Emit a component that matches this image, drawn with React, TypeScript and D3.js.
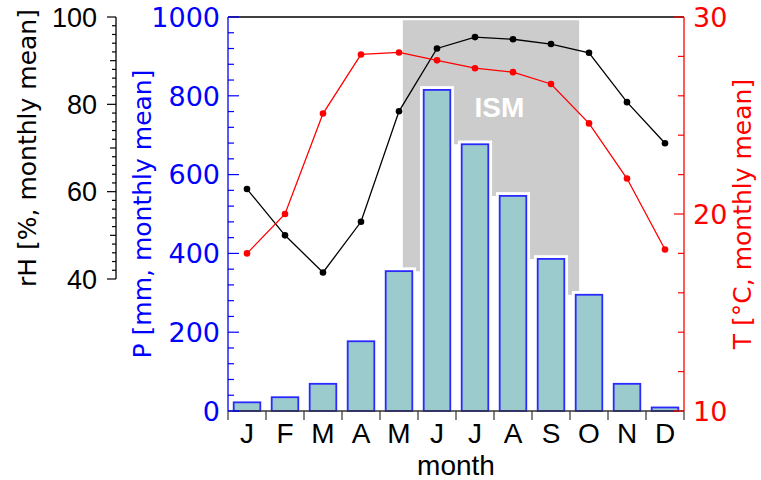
import React from "react";
import * as d3 from "d3";

const months = ["J", "F", "M", "A", "M", "J", "J", "A", "S", "O", "N", "D"];
const precip = [22, 35, 69, 177, 355, 815, 677, 546, 386, 295, 69, 9];
const rh = [60.6, 50, 41.5, 53.1, 78.4, 92.8, 95.4, 94.9, 93.8, 91.8, 80.5, 71.1];
const temp = [18.0, 20.0, 25.1, 28.1, 28.2, 27.8, 27.4, 27.2, 26.6, 24.6, 21.8, 18.2];
const pTicks = [0, 200, 400, 600, 800, 1000];
const rhTicks = [40, 60, 80, 100];
const tTicks = [10, 20, 30];
const ismRange = [4.6, 9.24];
const ismTop = 992;

const W = 761, H = 480;
const L = 228, R = 684, T = 17, B = 411;
const DV = "'DejaVu Sans', Verdana, sans-serif";
const AR = "'Liberation Sans', Arial, sans-serif";

export default function App() {
  const x = d3.scaleLinear().domain([0, 12]).range([L, R]);
  const yP = d3.scaleLinear().domain([0, 1000]).range([B, T]);
  const yRH = d3.scaleLinear().domain([40, 100]).range([279, T]);
  const yT = d3.scaleLinear().domain([10, 30]).range([B, T]);
  const bw = (x(1) - x(0)) * 0.7;
  const cx = (i: number) => x(i + 0.5);

  // ISM gray polygon: bottom = min of adjacent bar tops, stepping at bar centers
  const pts: [number, number][] = [];
  const [s, e] = ismRange;
  pts.push([x(s), yP(ismTop)], [x(e), yP(ismTop)]);
  const segs: { a: number; b: number; v: number }[] = [];
  for (let i = 0; i < 11; i++) {
    const a = Math.max(i + 0.5, s), b = Math.min(i + 1.5, e);
    if (b > a) segs.push({ a, b, v: Math.min(precip[i], precip[i + 1]) });
  }
  for (let k = segs.length - 1; k >= 0; k--) {
    pts.push([x(segs[k].b), yP(segs[k].v)], [x(segs[k].a), yP(segs[k].v)]);
  }
  const poly = pts.map((p) => p.join(",")).join(" ");

  const lineRH = d3.line<number>().x((_, i) => cx(i)).y((d) => yRH(d));
  const lineT = d3.line<number>().x((_, i) => cx(i)).y((d) => yT(d));

  const pMinor = d3.range(0, 1001, 40);
  const rhMinor = d3.range(40, 101, 2);
  const tMinor = d3.range(10, 31, 2);

  return (
    <svg width={W} height={H} style={{ position: "absolute", left: 0, top: 0, background: "#fff" }}>
      <polygon points={poly} fill="#cccccc" />
      <text x={(x(s) + x(e)) / 2 + 8.5} y={117} fill="#fff" fontFamily={AR} fontWeight="bold" fontSize={28} textAnchor="middle">ISM</text>
      {precip.map((v, i) => (
        <rect key={"w" + i} x={cx(i) - bw / 2} y={yP(v)} width={bw} height={B - yP(v)} fill="none" stroke="#fff" strokeWidth={7.5} />
      ))}
      {precip.map((v, i) => (
        <rect key={"b" + i} x={cx(i) - bw / 2} y={yP(v)} width={bw} height={B - yP(v)} fill="#9ccbcd" stroke="#2a2aff" strokeWidth={1.8} />
      ))}
      {/* frame */}
      <line x1={L} x2={R} y1={T} y2={T} stroke="#000" strokeWidth={1.3} />
      <line x1={L} x2={R} y1={B} y2={B} stroke="#333" strokeWidth={1.3} />
      {d3.range(0, 13).map((i) => (
        <line key={"xt" + i} x1={x(i)} x2={x(i)} y1={B} y2={B + 9} stroke="#333" strokeWidth={1.2} />
      ))}
      {months.map((m, i) => (
        <text key={"m" + i} x={cx(i)} y={443} fontFamily={AR} fontSize={28} textAnchor="middle" fill="#000">{m}</text>
      ))}
      <text x={(L + R) / 2} y={475} fontFamily={AR} fontSize={28} textAnchor="middle" fill="#000">month</text>

      {/* P axis */}
      <line x1={L} x2={L} y1={T} y2={B} stroke="#0000ff" strokeWidth={1.3} />
      {pMinor.map((v) => (
        <line key={"pt" + v} x1={L} x2={L + (v % 200 === 0 ? 11 : 6)} y1={yP(v)} y2={yP(v)} stroke="#0000ff" strokeWidth={1.2} />
      ))}
      {pTicks.map((v) => (
        <text key={"pl" + v} x={220} y={yP(v)} dy="0.36em" fontFamily={DV} fontSize={27} textAnchor="end" fill="#0000ff">{v}</text>
      ))}
      <text transform={`translate(151,${(T + B) / 2}) rotate(-90)`} fontFamily={DV} fontSize={25} textAnchor="middle" fill="#0000ff">P [mm, monthly mean]</text>

      {/* rH axis */}
      <line x1={116} x2={116} y1={yRH(40)} y2={yRH(100)} stroke="#000" strokeWidth={1.3} />
      {rhMinor.map((v) => (
        <line key={"rt" + v} x1={116} x2={116 - (v % 20 === 0 ? 9 : v % 10 === 0 ? 6 : 4)} y1={yRH(v)} y2={yRH(v)} stroke="#000" strokeWidth={1.2} />
      ))}
      {rhTicks.map((v) => (
        <text key={"rl" + v} x={97} y={yRH(v)} dy="0.36em" fontFamily={AR} fontSize={27} textAnchor="end" fill="#000">{v}</text>
      ))}
      <text transform={`translate(36,${(yRH(40) + yRH(100)) / 2}) rotate(-90)`} fontFamily={DV} fontSize={25} textAnchor="middle" fill="#000">rH [%, monthly mean]</text>

      {/* T axis */}
      <line x1={R} x2={R} y1={T} y2={B} stroke="#ff0000" strokeWidth={1.3} />
      {tMinor.map((v) => (
        <line key={"tt" + v} x1={R} x2={R - (v % 10 === 0 ? 10 : 6)} y1={yT(v)} y2={yT(v)} stroke="#ff0000" strokeWidth={1.2} />
      ))}
      {tTicks.map((v) => (
        <text key={"tl" + v} x={693} y={yT(v)} dy="0.36em" fontFamily={DV} fontSize={27} textAnchor="start" fill="#ff0000">{v}</text>
      ))}
      <text transform={`translate(751,${(T + B) / 2}) rotate(-90)`} fontFamily={DV} fontSize={25} textAnchor="middle" fill="#ff0000">T [°C, monthly mean]</text>

      {/* lines */}
      <path d={lineRH(rh) || ""} fill="none" stroke="#000" strokeWidth={1.3} />
      {rh.map((v, i) => (
        <circle key={"rc" + i} cx={cx(i)} cy={yRH(v)} r={3.3} fill="#000" />
      ))}
      <path d={lineT(temp) || ""} fill="none" stroke="#ff0000" strokeWidth={1.3} />
      {temp.map((v, i) => (
        <circle key={"tc" + i} cx={cx(i)} cy={yT(v)} r={3.3} fill="#ff0000" />
      ))}
    </svg>
  );
}
